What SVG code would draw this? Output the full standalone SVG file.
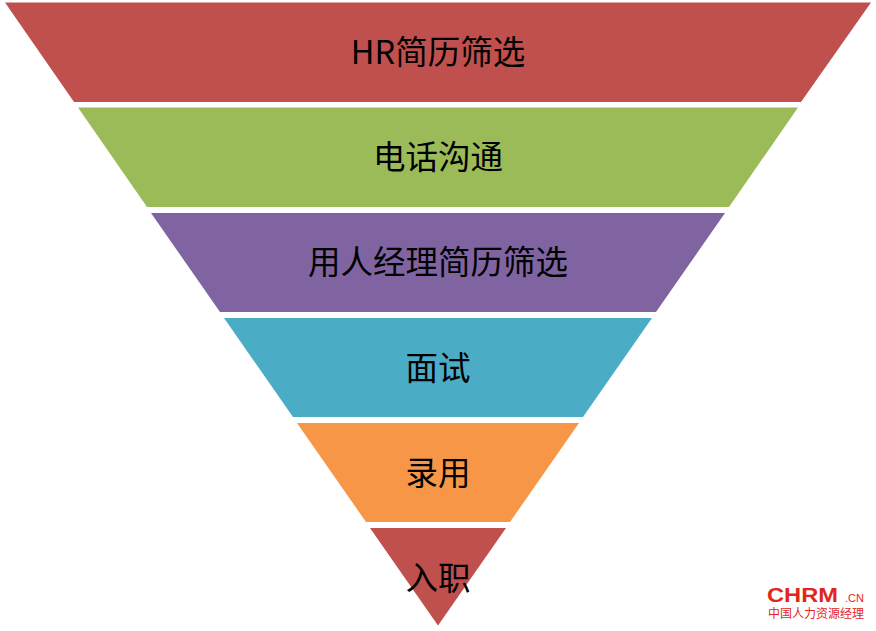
<svg xmlns="http://www.w3.org/2000/svg" width="876" height="631" viewBox="0 0 876 631">
<style>
.l{font-family:"Noto Sans CJK SC","Noto Sans",sans-serif;font-size:32.500px;fill:#000;text-anchor:middle}
.a{fill:#c0504d}.b{fill:#9bbb59}.c{fill:#8064a2}.d{fill:#4bacc6}.e{fill:#f79646}
.logo{font-family:"Liberation Sans",sans-serif;fill:#e2261c}
</style>
<rect width="876" height="631" fill="#fff"/>
<g id="connectors"></g>
<g id="n1"><polygon class="a" points="5,2.500 871,2.500 801,102 74,102"/><text class="l" x="438" y="64">HR简历筛选</text></g>
<g id="n2"><polygon class="b" points="78,107.500 798,107.500 729,207 147,207"/><text class="l" x="438" y="169">电话沟通</text></g>
<g id="n3"><polygon class="c" points="151,213 725,213 656,312 220,312"/><text class="l" x="438" y="274">用人经理简历筛选</text></g>
<g id="n4"><polygon class="d" points="224,318 652,318 583,417 293,417"/><text class="l" x="438" y="380">面试</text></g>
<g id="n5"><polygon class="e" points="297,423 579,423 510,522 366,522"/><text class="l" x="438" y="485">录用</text></g>
<g id="n6"><polygon class="a" points="370,528 506,528 438,625.500"/><text class="l" x="438" y="590">入职</text></g>
<g id="logo">
<text class="logo" x="767" y="601.500" font-size="21" font-weight="700" textLength="71" lengthAdjust="spacingAndGlyphs">CHRM</text>
<text class="logo" x="845" y="602" font-size="11" textLength="19" lengthAdjust="spacingAndGlyphs">.CN</text>
<text x="768" y="617.500" font-size="12" fill="#e2261c" font-family="Noto Sans CJK SC,sans-serif" textLength="96" lengthAdjust="spacingAndGlyphs">中国人力资源经理</text>
</g>
</svg>
